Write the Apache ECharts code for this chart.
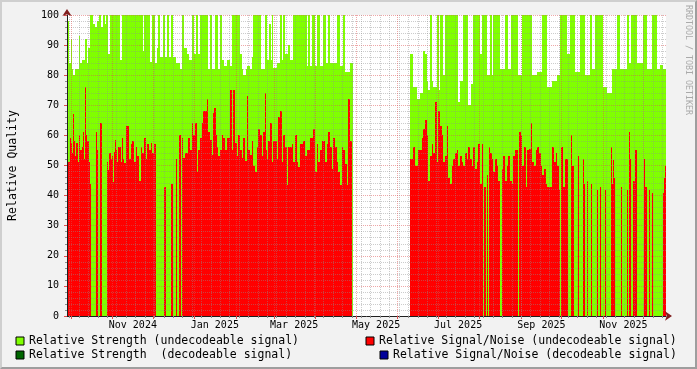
<!DOCTYPE html>
<html><head><meta charset="utf-8">
<script src="https://cdn.jsdelivr.net/npm/echarts@6/dist/echarts.min.js"></script>
<style>
html,body{margin:0;padding:0;background:#F2F2F2;}
#wrap{position:relative;width:697px;height:369px;}
#chart{position:absolute;left:0;top:0;width:697px;height:369px;}
#frame{position:absolute;left:0;top:0;width:697px;height:369px;box-sizing:border-box;border-style:solid;border-width:2px;border-color:#CFCFCF #9E9E9E #9E9E9E #CFCFCF;pointer-events:none;}
</style></head><body>
<div id="wrap"><div id="chart"></div><div id="frame"></div></div>
<script>
// ---- data (x = days since 2024-09-28 00:00 UTC) ----
const startDate = '2024-09-28';
const endDay = 445.7;
const seriesNames = [
  'Relative Strength (undecodeable signal)',
  'Relative Strength  (decodeable signal)',
  'Relative Signal/Noise (undecodeable signal)',
  'Relative Signal/Noise (decodeable signal)'
];
const seriesColors = ['#80FF00', '#006600', '#FF0000', '#000099'];
const tickLabels = ['Nov 2024', 'Jan 2025', 'Mar 2025', 'May 2025', 'Jul 2025', 'Sep 2025', 'Nov 2025'];
const tickLabelDates = ['2024-11-16', '2025-01-16', '2025-03-16', '2025-05-16', '2025-07-16', '2025-09-16', '2025-11-16'];
const monthStartDates = ['2024-10-01','2024-11-01','2024-12-01','2025-01-01','2025-02-01','2025-03-01','2025-04-01','2025-05-01','2025-06-01','2025-07-01','2025-08-01','2025-09-01','2025-10-01','2025-11-01','2025-12-01'];
const firstWeekDate = '2024-09-30';

// Relative Strength (undecodeable signal): [day where value starts, value]
const strength = [
[0,98],[1.2,84],[2.7,92],[3.5,82],[4.2,80],[5.7,82],[8.7,93],[9.7,84],[11.5,85],[13.6,92],[15.1,84],[15.9,89],[17.1,100],[19.6,97],[21,96],[22.1,98],[23.5,100],[25,96],[26.5,100],[28,97],[29,100],[30.7,87],[32,100],[39.4,85],[40.7,100],[56.8,88],[57.3,100],[61.8,84.5],[63,100],[65.5,84],[66.7,89],[68,100],[69.2,86],[71.7,100],[73,86],[74.5,100],[76,86],[77.5,100],[79.1,86],[81,84],[84.1,82],[85.3,100],[87,89],[89.1,87],[91,85],[92.8,100],[94.5,87],[96,100],[97.5,87],[99,100],[105.1,82],[106.5,100],[108,82],[110,100],[112,82],[113.5,100],[115.1,85],[117,83],[119,85],[121.3,83],[122.5,100],[128.7,87],[130,82],[131.2,80],[132.9,82],[134.2,83],[136.1,82],[137.6,86],[138.6,100],[144.1,82],[147.3,100],[148.5,85],[150,97],[151.5,85],[152.8,100],[153.5,82.5],[156,84],[158.5,100],[159.7,85],[161,100],[162.2,87],[164.7,90],[165.9,85],[168.4,100],[178.3,83],[179.5,100],[180.8,83],[182,100],[184.5,83],[186.2,100],[188.2,83],[190.7,100],[192.7,84],[193.9,100],[195.7,84],[200.6,100],[203.1,83],[205.6,100],[206.8,81],[210.6,84],[212.8,null],
[255.2,87],[257.7,76],[260.1,72],[262.6,74],[265.1,88],[266.3,87],[267.6,78],[268.8,75],[270.1,100],[271.3,78],[272.5,76],[275,100],[276.5,75],[277.5,100],[280,80],[281.2,100],[291.1,71],[292.4,78],[294.4,100],[298.6,70],[300.3,77],[302.3,100],[307.3,87],[308.5,100],[312.2,80],[314.7,100],[315.9,80],[317.2,100],[322.2,82],[325.9,100],[328,82],[330,100],[335.8,80],[338.3,100],[345.7,80],[349.4,81],[353.2,100],[356.9,76],[360.6,78],[364.3,80],[366.8,100],[371.8,87],[374.2,100],[378,81],[381.7,100],[385.4,80],[389.1,100],[391,82],[393,100],[399,76],[401.5,74],[405.2,82],[409,100],[411.4,82],[416.4,100],[418,84],[420,100],[423.8,84],[428.8,100],[431.3,82],[435,100],[438.7,82],[441.2,83.5],[443.7,82],[445.7,null]
];

// Relative Signal/Noise (undecodeable signal): [day where value starts, value]
const snr = [
[0,56],[1,51],[2,59],[3,57.5],[4,54],[4.5,67],[5.2,58],[6,53],[7,57.5],[8,51],[9,60],[10,55],[11,56],[12,61],[13,52],[13.5,76],[14.2,60],[15,58],[16,51],[17,44],[17.9,0],[21.6,61],[22.3,55],[23.1,0],[24.6,64],[26,0],[29.8,51],[30.7,48.6],[31.5,54],[32.5,52],[33.3,53],[34,44.5],[35,54.5],[35.7,58.5],[36.5,55],[37.4,51],[38.2,56],[40,51],[41.1,59],[41.9,52],[42.6,50.7],[43.7,63],[46.1,52],[47.4,57],[48.6,58],[49.8,51],[51.1,56],[52.3,53],[53.6,45],[54.8,56],[56,54],[57.3,59],[58.6,52],[59.7,57],[61,55],[62.3,57.5],[63.5,54],[64.7,57],[66.2,0],[72.2,43],[73.7,0],[77.4,44],[78.9,0],[81.1,52],[81.8,0],[83.3,60],[84.8,0],[85.6,59],[86.5,52.5],[87.8,54],[90.2,59],[91.5,55],[92.8,64],[94,60],[95.2,64],[96.5,48],[97.7,55],[99,59],[100.2,64],[101.4,68],[103.9,72],[104.7,49.5],[105.1,61],[106.4,58.5],[107.7,53.5],[108.9,67.5],[109.6,69],[110.6,60],[111.4,56],[112.6,53],[113.8,55],[115.1,60],[116.3,59],[117.6,55],[118.8,59],[121.3,75],[122.6,55],[123.3,75],[125,57.5],[126.3,53],[127.5,60],[128.7,55],[130,52.5],[131.2,59],[132.4,51.5],[133.7,73],[134.9,55],[136.2,53.5],[137.4,58],[138.6,50],[139.9,48],[141.1,56],[142.3,62],[143.6,60],[144.8,53],[146.1,61],[147.3,74],[148.1,55],[149,52],[149.8,58],[151,64],[152.3,51],[153.5,58],[156,52],[157.3,66],[158.5,68],[159.7,51],[161,60],[162.2,56],[163.5,43.5],[164.7,56],[167.2,57],[168.4,51],[169.6,60],[170.9,51],[172.1,49.5],[173.4,57],[175.8,58],[177.1,53],[178.3,55],[180.8,59],[183.3,62],[184.5,48],[185.7,57],[187,51],[188.2,55],[189.5,58],[192,51],[193.2,57],[194.4,61],[195.7,56],[196.9,49],[198.1,59],[199.4,56],[200.7,51],[201.9,48],[203.1,43.5],[204.4,56],[205.6,55],[206.8,50.5],[208.1,43.5],[209.3,72],[210.6,58],[211.9,0],[212.8,null],
[255.2,52],[257.2,56],[258.9,50],[261.4,55],[263.9,59],[265.1,62],[266.4,65],[267.6,60],[268.8,45],[270.1,53],[271.3,57],[272.5,54],[273.8,71],[275,51],[276.2,68],[277.5,63],[278.7,60],[280,51],[281.2,53],[282.5,63],[283.7,46],[285,44],[286.2,50],[287.4,52],[288.7,54],[289.9,55],[291.2,50],[292.4,53],[293.6,51],[294.9,50],[296.1,54],[297.4,52],[298.6,56],[299.8,52],[301.1,50],[302.3,56],[303.6,49],[304.8,51],[306.1,57],[307.3,44],[308.5,57],[309.8,0],[310.5,43],[311.8,0],[312.4,47],[313,0],[313.7,56],[314.7,54],[315.9,52],[317.2,48],[318.4,52],[319.6,50],[320.9,45],[322.2,0],[323.4,49],[324.7,53],[325.9,45],[327.1,50],[328.4,53],[329.6,45],[330.8,44],[332.1,53],[333.3,55],[335.3,0],[336.3,61],[337.6,60],[338.8,50],[340.1,56],[341.3,43],[342.5,55],[343.8,55.5],[345,64],[346.2,51],[347.5,50],[348.7,55],[350,56],[351.2,54],[352.4,50],[353.7,47],[354.9,49],[356.2,44],[357.4,43],[361.1,56],[362.3,51],[363.6,54],[364.8,50],[366.1,42],[366.8,0],[367.6,56],[369.1,43],[370.6,52],[373.1,0],[374.9,60],[376.1,50],[377.4,0],[380.1,53],[381.1,0],[383.9,52],[384.9,44],[385.6,0],[386.8,45],[387.8,0],[389.6,44],[390.6,0],[394.1,42],[395.1,0],[396.3,43],[397.3,0],[400.1,42],[401,0],[404.5,56],[405.2,44],[406,51.7],[407,46],[407.7,0],[411.9,43],[412.9,0],[416.4,42],[417.4,0],[417.9,61],[418.8,52],[419.6,0],[420.9,45],[422.4,55],[423.9,0],[429.5,52],[430.4,43],[431.3,0],[432.8,42],[433.8,0],[435,41],[436,0],[443.2,41],[444.2,46],[444.9,50],[445.7,null]
];
const strengthDecodeable = [];
const snrDecodeable = [];

// ---- helpers ----
const FONT = '"DejaVu Sans Mono", monospace';
const DAY_MS = 86400000;
const t0 = Date.parse(startDate + 'T00:00:00Z');
const dayOf = s => (Date.parse(s + 'T00:00:00Z') - t0) / DAY_MS;
const labelDays = tickLabelDates.map(dayOf);
const monthDays = monthStartDates.map(dayOf);
const weekDays = [];
for (let d = dayOf(firstWeekDate); d < endDay; d += 7) weekDays.push(d);
function toSegments(arr) {
  const out = [];
  for (let i = 0; i < arr.length - 1; i++) {
    if (arr[i][1] != null) out.push([arr[i][0], arr[i + 1][0], arr[i][1]]);
  }
  return out;
}
function labelFor(v) {
  let best = 0;
  labelDays.forEach((d, i) => { if (Math.abs(d - v) < Math.abs(labelDays[best] - v)) best = i; });
  return tickLabels[best];
}

const majorGrid = {color: 'rgba(222,79,79,0.5)', type: [1, 1], width: 1};
const minorGrid = {color: 'rgba(143,143,143,0.45)', type: [1, 1], width: 1};
const ARROW = '#801F1F';

function areaSeries(i, data) {
  const color = seriesColors[i];
  return {
    name: seriesNames[i], type: 'custom', clip: true,
    color: color, itemStyle: {color: color},
    encode: {x: [0, 1], y: 2},
    renderItem: function (params, api) {
      const v = api.value(2);
      if (!(v > 0)) return null;
      const a = api.coord([api.value(0), v]);
      const b = api.coord([api.value(1), 0]);
      const x0 = Math.round(a[0]), x1 = Math.round(b[0]);
      const y0 = Math.round(a[1]), y1 = Math.round(b[1]);
      if (x1 <= x0) return null;
      return {type: 'rect', shape: {x: x0, y: y0, width: x1 - x0, height: y1 - y0}, style: {fill: color}};
    },
    data: toSegments(data)
  };
}

const legendBase = {
  icon: 'rect', itemWidth: 8, itemHeight: 8, padding: 0, selectedMode: false,
  itemStyle: {borderColor: '#000', borderWidth: 1},
  textStyle: {fontFamily: FONT, fontSize: 11.5, color: '#000', lineHeight: 14}
};

const chart = echarts.init(document.getElementById('chart'), null, {renderer: 'canvas'});
chart.setOption({
  animation: false,
  backgroundColor: '#F2F2F2',
  textStyle: {fontFamily: FONT},
  grid: {left: 67, right: 31, top: 15, bottom: 53, containLabel: false, outerBoundsMode: 'none', show: true, backgroundColor: '#FFFFFF', borderWidth: 0},
  legend: [
    Object.assign({}, legendBase, {data: [seriesNames[0]], left: 15.5, top: 334}),
    Object.assign({}, legendBase, {data: [seriesNames[1]], left: 15.5, top: 348}),
    Object.assign({}, legendBase, {data: [seriesNames[2]], left: 365.5, top: 334}),
    Object.assign({}, legendBase, {data: [seriesNames[3]], left: 379.5, top: 348})
  ],
  xAxis: [
    {
      type: 'value', min: 0, max: endDay, position: 'bottom', z: 3,
      axisLine: {show: true, onZero: false, lineStyle: {color: '#1F1F1F', width: 1}},
      axisTick: {show: true, customValues: monthDays, length: 3, lineStyle: {color: '#DE4F4F'}},
      axisLabel: {show: true, customValues: labelDays, formatter: v => labelFor(v), margin: 4, fontSize: 10, color: '#000', fontFamily: FONT},
      splitLine: {show: true, lineStyle: majorGrid}
    },
    {
      type: 'value', min: 0, max: endDay, position: 'bottom', z: 4,
      axisLine: {show: true, onZero: false, symbol: ['none', 'arrow'], symbolSize: [7, 7], symbolOffset: [0, 6], lineStyle: {color: ARROW, width: 0}},
      axisLabel: {show: false},
      axisTick: {show: true, customValues: weekDays, length: 2, lineStyle: {color: '#8F8F8F', width: 1}},
      splitLine: {show: true, lineStyle: minorGrid}
    }
  ],
  yAxis: [
    {
      type: 'value', min: 0, max: 100, interval: 10, z: 3,
      name: 'Relative Quality', nameLocation: 'middle', nameGap: 48, nameRotate: 90,
      nameTextStyle: {fontSize: 11.5, fontFamily: FONT, color: '#000'},
      axisLine: {show: true, lineStyle: {color: '#1F1F1F', width: 1}},
      axisTick: {show: true, length: 3, lineStyle: {color: '#DE4F4F'}},
      minorTick: {show: true, splitNumber: 5, length: 2, lineStyle: {color: '#8F8F8F'}},
      axisLabel: {fontSize: 10, margin: 8, color: '#000', fontFamily: FONT},
      splitLine: {show: true, lineStyle: majorGrid},
      minorSplitLine: {show: true, lineStyle: minorGrid}
    },
    {
      type: 'value', min: 0, max: 100, position: 'left', z: 4,
      axisLine: {show: true, onZero: false, symbol: ['none', 'arrow'], symbolSize: [7, 7], symbolOffset: [0, 6], lineStyle: {color: ARROW, width: 0}},
      axisTick: {show: false}, axisLabel: {show: false}, splitLine: {show: false}
    }
  ],
  graphic: [{
    type: 'text', x: 688, y: 5, rotation: -Math.PI / 2, silent: true,
    style: {text: 'RRDTOOL / TOBI OETIKER', fill: '#aaaaaa', font: '8.3px "DejaVu Sans Mono"', textAlign: 'left', textVerticalAlign: 'middle'}
  }],
  series: [
    areaSeries(0, strength),
    areaSeries(2, snr),
    areaSeries(1, strengthDecodeable),
    areaSeries(3, snrDecodeable)
  ]
});
</script></body></html>
